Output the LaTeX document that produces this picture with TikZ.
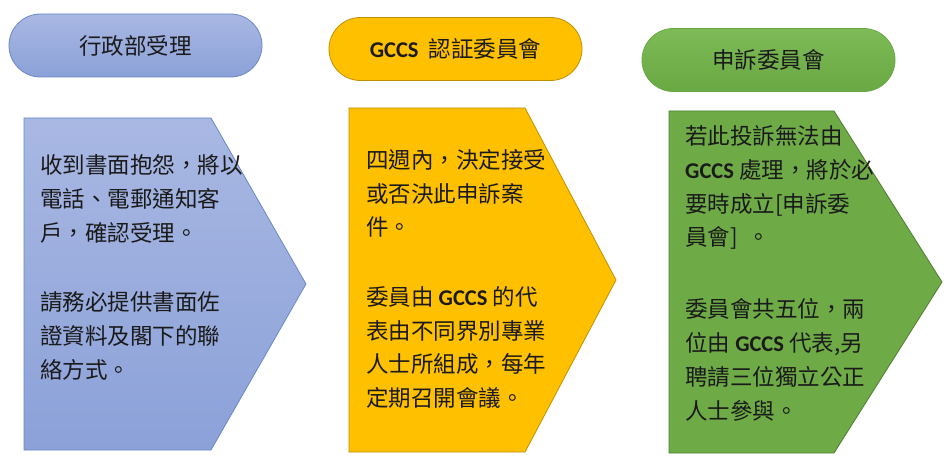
\documentclass[tikz,border=0pt]{standalone}
\usepackage{fontspec}
\setmainfont{Noto Sans CJK TC}
\newfontfamily\calfont{Carlito}
\newcommand{\gccs}{{\calfont\bfseries GCCS}}
\definecolor{txt}{HTML}{1A1A1A}
\definecolor{blueTop}{HTML}{A9B8E3}
\definecolor{blueBot}{HTML}{8BA1D8}
\definecolor{blueLine}{HTML}{6A88C6}
\definecolor{gold}{HTML}{FFC000}
\definecolor{goldLine}{HTML}{BF9000}
\definecolor{greenTop}{HTML}{7EBB58}
\definecolor{greenBot}{HTML}{69A842}
\definecolor{green}{HTML}{6EAB46}
\definecolor{greenLine}{HTML}{507E32}
\tikzset{
  pill/.style={rounded corners=31.5pt, minimum width=253pt, minimum height=63pt,
    inner sep=0pt, font=\fontsize{22.5}{26}\selectfont, text=txt, line width=0.8pt},
  para/.style={anchor=west, align=left, inner sep=0pt, text=txt,
    font=\fontsize{22.5}{33.8}\selectfont},
  penta/.style={line width=0.8pt}
}
\begin{document}
\begin{tikzpicture}[x=1pt,y=-1pt]
\useasboundingbox (0,0) rectangle (949,462);
\fill[white] (0,0) rectangle (949,462);
% pentagons
\path[penta, draw=blueLine, top color=blueTop, bottom color=blueBot]
  (24,118) -- (211,118) -- (306,284) -- (211,450) -- (24,450) -- cycle;
\path[penta, draw=goldLine, fill=gold]
  (349,108) -- (525,108) -- (616,280) -- (525,452) -- (349,452) -- cycle;
\path[penta, draw=greenLine, fill=green]
  (669,111) -- (834,111) -- (942,282) -- (834,453) -- (669,453) -- cycle;
% pills
\node[pill, draw=blueLine, top color=blueTop, bottom color=blueBot] (p1) at (135.5,45.5) {行政部受理};
\node[pill, draw=goldLine, fill=gold] (p2) at (455.5,49) {\gccs\ \ 認証委員會};
\node[pill, draw=greenBot, top color=greenTop, bottom color=greenBot] (p3) at (768.5,60) {申訴委員會};
% texts
\node[para] (t1a) at (40,199) {收到書面抱怨，將以\\電話、電郵通知客\\戶，確認受理。};
\node[para] (t1b) at (40,336) {請務必提供書面佐\\證資料及閣下的聯\\絡方式。};
\node[para] (t2a) at (366,193.5) {四週內，決定接受\\或否決此申訴案\\件。};
\node[para] (t2b) at (366,347.5) {委員由 \gccs\ 的代\\表由不同界別專業\\人士所組成，每年\\定期召開會議。};
\node[para] (t3a) at (685,187.5) {若此投訴無法由\\\gccs\ 處理，將於必\\要時成立[申訴委\\員會]\ \ 。};
\node[para] (t3b) at (685,360) {委員會共五位，兩\\位由 \gccs\ 代表,另\\聘請三位獨立公正\\人士參與。};
\end{tikzpicture}
\end{document}
